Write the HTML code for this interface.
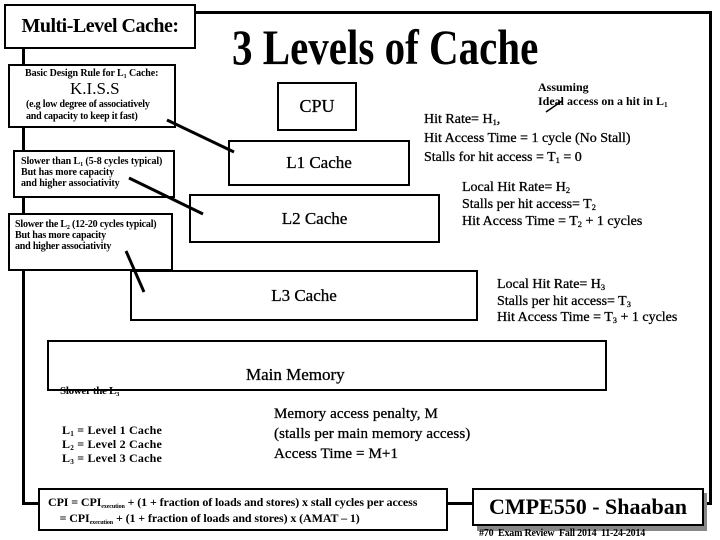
<!DOCTYPE html>
<html><head><meta charset="utf-8"><style>
body{margin:0;width:720px;height:540px;background:#fff;position:relative;overflow:hidden;font-family:"Liberation Serif",serif;color:#000}
.a{position:absolute;white-space:nowrap;line-height:1}
.b{position:absolute;border:2px solid #000;background:#fff;box-sizing:border-box}
.c{display:flex;align-items:center;justify-content:center}
sub{font-size:60%;vertical-align:-2px;line-height:0}
.n{font-weight:bold}
.t{-webkit-text-stroke:0.3px #000}
</style></head><body>
<div class="b" style="left:22px;top:11px;width:690px;height:494px;border-width:3px;background:none"></div>
<div class="b c" style="left:4px;top:4px;width:192px;height:45px"><span class="n" style="font-size:20px;letter-spacing:-0.5px">Multi-Level Cache:</span></div>
<div class="a" style="left:232px;top:22px;font-size:50px;font-weight:bold;transform:scaleX(0.82);transform-origin:0 0">3 Levels of Cache</div>
<div class="b" style="left:8px;top:64px;width:168px;height:64px"></div>
<div class="a n" style="left:25px;top:69px;font-size:10px;letter-spacing:-0.1px">Basic Design Rule for L<sub>1</sub> Cache:</div>
<div class="a" style="left:70px;top:80px;font-size:17px">K.I.S.S</div>
<div class="a n" style="left:26px;top:99px;font-size:10px;line-height:12px;letter-spacing:-0.2px">(e.g low degree of associatively<br>and capacity to keep it fast)</div>
<div class="b" style="left:13px;top:150px;width:162px;height:48px"></div>
<div class="a n" style="left:21px;top:156px;font-size:10px;line-height:11px;letter-spacing:-0.1px">Slower than L<sub>1</sub> (5-8 cycles typical)<br>But has more capacity<br>and higher associativity</div>
<div class="b" style="left:8px;top:213px;width:165px;height:58px"></div>
<div class="a n" style="left:15px;top:219px;font-size:10px;line-height:11px;letter-spacing:-0.2px">Slower the L<sub>2</sub> (12-20 cycles typical)<br>But has more capacity<br>and higher associativity</div>
<div class="b c" style="left:277px;top:82px;width:80px;height:49px"><span class="t" style="font-size:18px">CPU</span></div>
<div class="b c" style="left:228px;top:140px;width:182px;height:46px"><span class="t" style="font-size:17px">L1 Cache</span></div>
<div class="b c" style="left:189px;top:194px;width:251px;height:49px"><span class="t" style="font-size:17px">L2 Cache</span></div>
<div class="b c" style="left:130px;top:270px;width:348px;height:51px"><span class="t" style="font-size:17px">L3 Cache</span></div>
<div class="b" style="left:47px;top:340px;width:560px;height:51px"></div>
<div class="a t" style="left:246px;top:366px;font-size:17px">Main Memory</div>
<div class="a n" style="left:60px;top:386px;font-size:11px;letter-spacing:-0.3px">Slower the L<sub>3</sub></div>
<svg style="position:absolute;left:0;top:0" width="720" height="540">
<g stroke="#000" stroke-width="3">
<line x1="167" y1="120" x2="234" y2="152"/>
<line x1="129" y1="178" x2="203" y2="214"/>
<line x1="126" y1="251" x2="144" y2="292"/>
</g>
<line x1="546" y1="112" x2="562" y2="101" stroke="#000" stroke-width="1.5"/>
</svg>
<div class="a n" style="left:538px;top:80px;font-size:12px;line-height:14px;letter-spacing:0px">Assuming<br>Ideal access on a hit in L<sub>1</sub></div>
<div class="a t" style="left:424px;top:110px;font-size:14px;line-height:19px">Hit Rate= H<sub>1</sub>,<br>Hit Access Time = 1 cycle (No Stall)<br>Stalls for hit access = T<sub>1</sub> = 0</div>
<div class="a t" style="left:462px;top:179px;font-size:14px;line-height:17px">Local Hit Rate= H<sub>2</sub><br>Stalls per hit access= T<sub>2</sub><br>Hit Access Time = T<sub>2</sub> + 1 cycles</div>
<div class="a t" style="left:497px;top:277px;font-size:14px;line-height:16.5px">Local Hit Rate= H<sub>3</sub><br>Stalls per hit access= T<sub>3</sub><br>Hit Access Time = T<sub>3</sub> + 1 cycles</div>
<div class="a t" style="left:274px;top:404px;font-size:15px;line-height:20px;letter-spacing:0.1px">Memory access penalty, M<br>(stalls per main memory access)<br>Access Time = M+1</div>
<div class="a n" style="left:62px;top:423px;font-size:12px;line-height:14px;letter-spacing:0.2px">L<sub>1</sub> = Level 1 Cache<br>L<sub>2</sub> = Level 2 Cache<br>L<sub>3</sub> = Level 3 Cache</div>
<div class="b" style="left:38px;top:488px;width:410px;height:43px"></div>
<div class="a n" style="left:48px;top:494px;font-size:12px;line-height:16px;letter-spacing:-0.1px">CPI = CPI<sub style="font-size:6px">execution</sub> + (1 + fraction of loads and stores) x stall cycles per access<br>&nbsp;&nbsp;&nbsp;&nbsp;= CPI<sub style="font-size:6px">execution</sub> + (1 + fraction of loads and stores) x (AMAT – 1)</div>
<div class="b" style="left:477px;top:493px;width:230px;height:38px;background:#888;border-color:#888"></div>
<div class="b c" style="left:472px;top:488px;width:232px;height:38px"><span class="n" style="font-size:22px">CMPE550 - Shaaban</span></div>
<div class="a n" style="left:479px;top:529px;font-size:10px;letter-spacing:-0.2px">#70 &nbsp;Exam Review &nbsp;Fall 2014 &nbsp;11-24-2014</div>
</body></html>
